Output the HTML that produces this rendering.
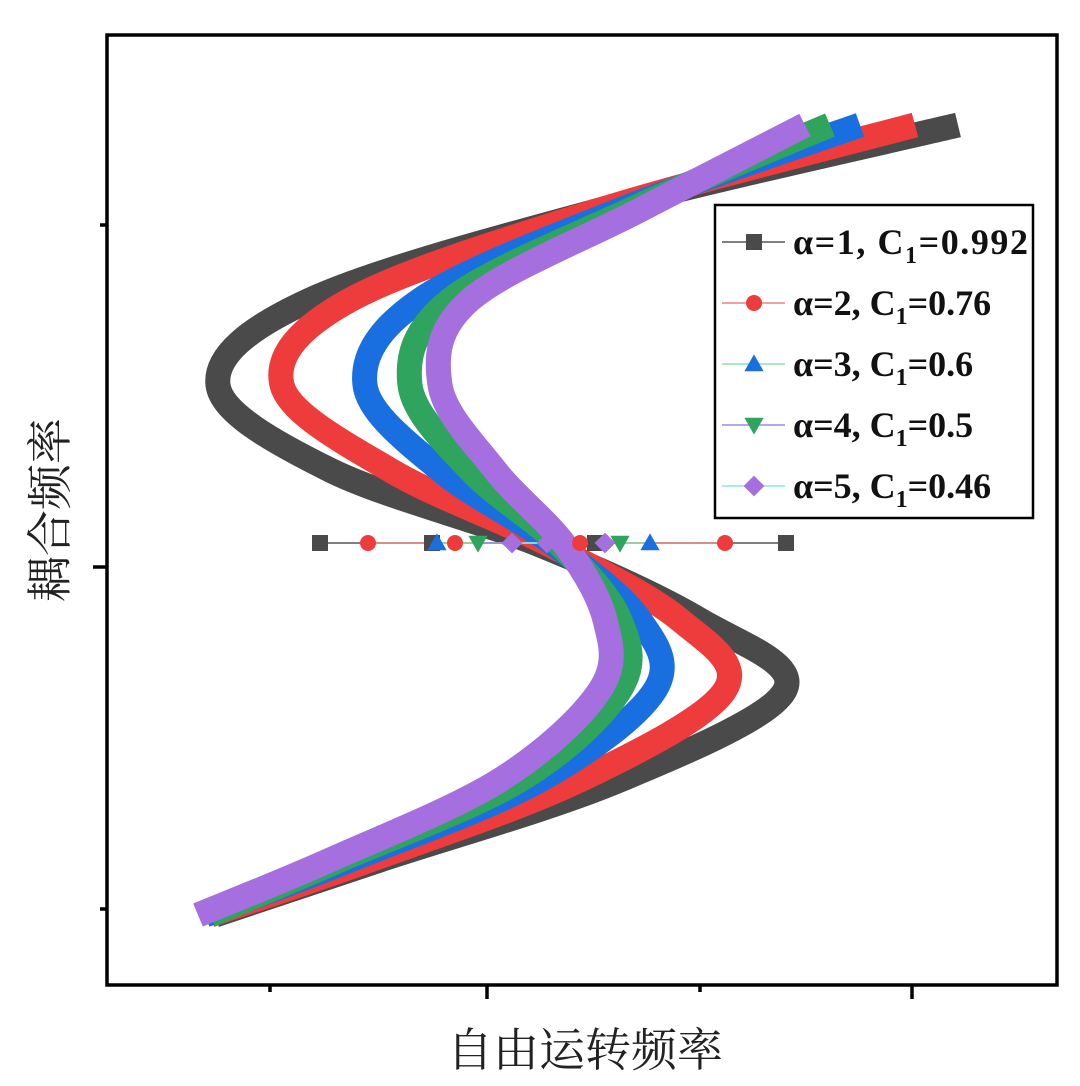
<!DOCTYPE html>
<html><head><meta charset="utf-8">
<style>
body{margin:0;background:#fff;}
svg{display:block;}
text{font-family:"Liberation Serif","Noto Serif CJK SC",serif;}
</style></head>
<body>
<svg id="chart" width="1080" height="1086" viewBox="0 0 1080 1086">
<g id="curves"></g>
<g id="markers"></g>
<rect x="107" y="35" width="950" height="950" fill="none" stroke="#000" stroke-width="3.5"/>
<g id="ticks"></g>
<text x="585" y="1066" font-size="46" text-anchor="middle" font-family="'Noto Sans CJK SC',sans-serif" fill="#222">自由运转频率</text>
<text transform="translate(66,510) rotate(-90)" font-size="46" text-anchor="middle" font-family="'Noto Sans CJK SC',sans-serif" fill="#222">耦合频率</text>
<g id="legend"></g>
</svg>
<script>
const yLevels=[860,775,685,600,515,440,365,295,205,125,70];
const grayX=[851,493,203,111,223,433,593,678,513,273,108];
const redX=[808,493,243,175,283,443,573,618,473,263,103];
const blueX=[753,513,313,258,333,448,533,548,433,243,98];
const greenX=[723,523,343,303,363,453,513,513,413,233,103];
const purpleX=[698,533,363,333,388,458,498,493,393,223,91];
const seriesLabels=["α=1, C","α=2, C","α=3, C","α=4, C","α=5, C"];
const seriesC=["=0.992","=0.76","=0.6","=0.5","=0.46"];
const markerY=442;
const grayMarks=[213,325,488,679];
const redMarks=[261,348,473,618];
const blueMarks=[330,543];
const greenMarks=[371,513];
const purpleMarks=[405,498,440,455];
const xTicks=[163,380,593,805];
const xMajor=[false,true,false,true];
const yTicks=[76,418,760];
const yMajor=[false,true,false];

const X0=107,X1=1057,Y0=985,Y1=35;
const xs=v=>X0+v*(X1-X0)/950;
const ys=v=>Y0-v*(Y0-Y1)/950;
const NS="http://www.w3.org/2000/svg";
function mk(tag,attrs,parent){const e=document.createElementNS(NS,tag);for(const k in attrs)e.setAttribute(k,attrs[k]);parent.appendChild(e);return e;}
function smooth(pts){let d=`M${pts[0][0]},${pts[0][1]}`;for(let i=0;i<pts.length-1;i++){const p0=pts[i-1]||pts[i],p1=pts[i],p2=pts[i+1],p3=pts[i+2]||p2;const c1=[p1[0]+(p2[0]-p0[0])/6,p1[1]+(p2[1]-p0[1])/6],c2=[p2[0]-(p3[0]-p1[0])/6,p2[1]-(p3[1]-p1[1])/6];d+=`C${c1[0]},${c1[1]} ${c2[0]},${c2[1]} ${p2[0]},${p2[1]}`;}return d;}
const colors=["#4a4a4a","#ee3b3b","#1a6fe0","#2ea45e","#a56fe0"];
const lineColors=["#555","#f08080","#90e0a0","#9a8ae8","#88e8e8"];
const allX=[grayX,redX,blueX,greenX,purpleX];
const names=["gray","red","blue","green","purple"];
const cg=document.getElementById('curves');
allX.forEach((arr,i)=>{
  const pts=arr.map((v,j)=>[xs(v),ys(yLevels[j])]);
  const p=mk('path',{d:smooth(pts),fill:'none',stroke:colors[i],'stroke-width':25,'stroke-linejoin':'round'},cg);
  
  
});
function marker(type,cx,cy,s,color,parent){
  let e;
  if(type==0)e=mk('rect',{x:cx-s,y:cy-s,width:2*s,height:2*s,fill:color},parent);
  else if(type==1)e=mk('circle',{cx,cy,r:s,fill:color},parent);
  else if(type==2)e=mk('polygon',{points:`${cx},${cy-s*1.2} ${cx+s*1.2},${cy+s*0.9} ${cx-s*1.2},${cy+s*0.9}`,fill:color},parent);
  else if(type==3)e=mk('polygon',{points:`${cx},${cy+s*1.2} ${cx+s*1.2},${cy-s*0.9} ${cx-s*1.2},${cy-s*0.9}`,fill:color},parent);
  else e=mk('polygon',{points:`${cx},${cy-s*1.3} ${cx+s*1.3},${cy} ${cx},${cy+s*1.3} ${cx-s*1.3},${cy}`,fill:color},parent);
  return e;
}
const mg=document.getElementById('markers');
const allMarks=[grayMarks,redMarks,blueMarks,greenMarks,purpleMarks];
allMarks.forEach((arr,i)=>{
  const xsA=arr.map(xs);
  const l=mk('line',{x1:Math.min(...xsA),x2:Math.max(...xsA),y1:ys(markerY),y2:ys(markerY),stroke:lineColors[i],'stroke-width':1.5},mg);
  
  
});
allMarks.forEach((arr,i)=>{
  arr.forEach(v=>{
    const m=marker(i,xs(v),ys(markerY),8,colors[i],mg);
    
    
  });
});
const tg=document.getElementById('ticks');
xTicks.forEach((v,i)=>{
  const t=mk('line',{x1:xs(v),x2:xs(v),y1:Y0,y2:Y0+(xMajor[i]?14:7),stroke:'#000','stroke-width':3.5},tg);
  
  
});
yTicks.forEach((v,i)=>{
  const t=mk('line',{x1:X0,x2:X0-(yMajor[i]?14:7),y1:ys(v),y2:ys(v),stroke:'#000','stroke-width':3.5},tg);
  
  
});
const lg=document.getElementById('legend');
const box=mk('rect',{x:715,y:205,width:318,height:313,fill:'#fff',stroke:'#000','stroke-width':2.5},lg);


seriesLabels.forEach((lab,i)=>{
  const cy=242+i*61;
  const g=mk('g',{},lg);
  
  
  mk('line',{x1:722,x2:785,y1:cy,y2:cy,stroke:lineColors[i],'stroke-width':1.5},g);
  marker(i,754,cy,8,colors[i],g);
  const t=mk('text',{x:793,y:cy+12,'font-size':36,'font-weight':'bold',fill:'#111',textLength:(i==0?235:null)},g);
  if(i!=0)t.removeAttribute('textLength');
  t.textContent=lab;
  const s=mk('tspan',{dy:9,'font-size':24},t);s.textContent='1';
  const s2=mk('tspan',{dy:-9},t);s2.textContent=seriesC[i];
});
</script>
</body></html>
